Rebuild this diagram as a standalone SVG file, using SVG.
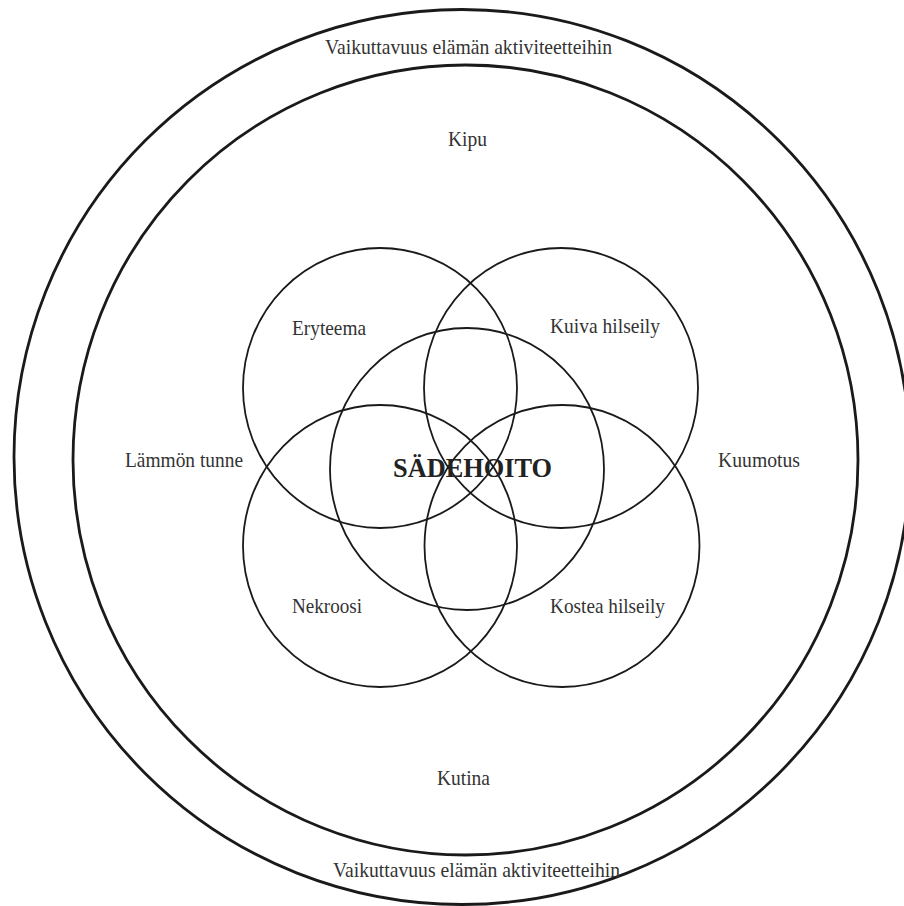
<svg xmlns="http://www.w3.org/2000/svg" width="904" height="906" viewBox="0 0 904 906">
<style>
.ring{fill:none;stroke:#1a1a1a;stroke-width:2.8}
.c{fill:none;stroke:#1a1a1a;stroke-width:1.8}
.t{font-family:"Liberation Serif","Times New Roman",serif;font-size:22px;fill:#333;text-anchor:middle}
.b{font-family:"Liberation Serif","Times New Roman",serif;font-size:28px;font-weight:bold;fill:#222;text-anchor:middle}
</style>
<rect width="904" height="906" fill="#fff"/>
<g id="outer">
<ellipse class="ring" cx="462" cy="457" rx="448" ry="447.5"/>
<text class="t" x="468.5" y="54" textLength="287" lengthAdjust="spacingAndGlyphs">Vaikuttavuus elämän aktiviteetteihin</text>
<text class="t" x="476.5" y="877" textLength="287" lengthAdjust="spacingAndGlyphs">Vaikuttavuus elämän aktiviteetteihin</text>
</g>
<g id="inner">
<ellipse class="ring" cx="465.5" cy="460" rx="392.5" ry="395"/>
<text class="t" x="467.5" y="146" textLength="39" lengthAdjust="spacingAndGlyphs">Kipu</text>
<text class="t" x="463.5" y="785" textLength="53" lengthAdjust="spacingAndGlyphs">Kutina</text>
<text class="t" x="184" y="467" textLength="118" lengthAdjust="spacingAndGlyphs">Lämmön tunne</text>
<text class="t" x="759" y="467" textLength="82" lengthAdjust="spacingAndGlyphs">Kuumotus</text>
</g>
<g id="eryteema">
<ellipse class="c" cx="380" cy="388" rx="137" ry="140"/>
<text class="t" x="329" y="335" textLength="74" lengthAdjust="spacingAndGlyphs">Eryteema</text>
</g>
<g id="kuiva-hilseily">
<ellipse class="c" cx="561" cy="388" rx="137" ry="140"/>
<text class="t" x="605" y="333" textLength="110" lengthAdjust="spacingAndGlyphs">Kuiva hilseily</text>
</g>
<g id="nekroosi">
<ellipse class="c" cx="380" cy="546" rx="137" ry="141"/>
<text class="t" x="327" y="613" textLength="70" lengthAdjust="spacingAndGlyphs">Nekroosi</text>
</g>
<g id="kostea-hilseily">
<ellipse class="c" cx="562" cy="546" rx="137.5" ry="141"/>
<text class="t" x="607.5" y="613" textLength="115" lengthAdjust="spacingAndGlyphs">Kostea hilseily</text>
</g>
<g id="sadehoito">
<ellipse class="c" cx="467" cy="469" rx="137" ry="141"/>
<text class="b" x="472.5" y="477" textLength="159" lengthAdjust="spacingAndGlyphs">SÄDEHOITO</text>
</g>
</svg>
